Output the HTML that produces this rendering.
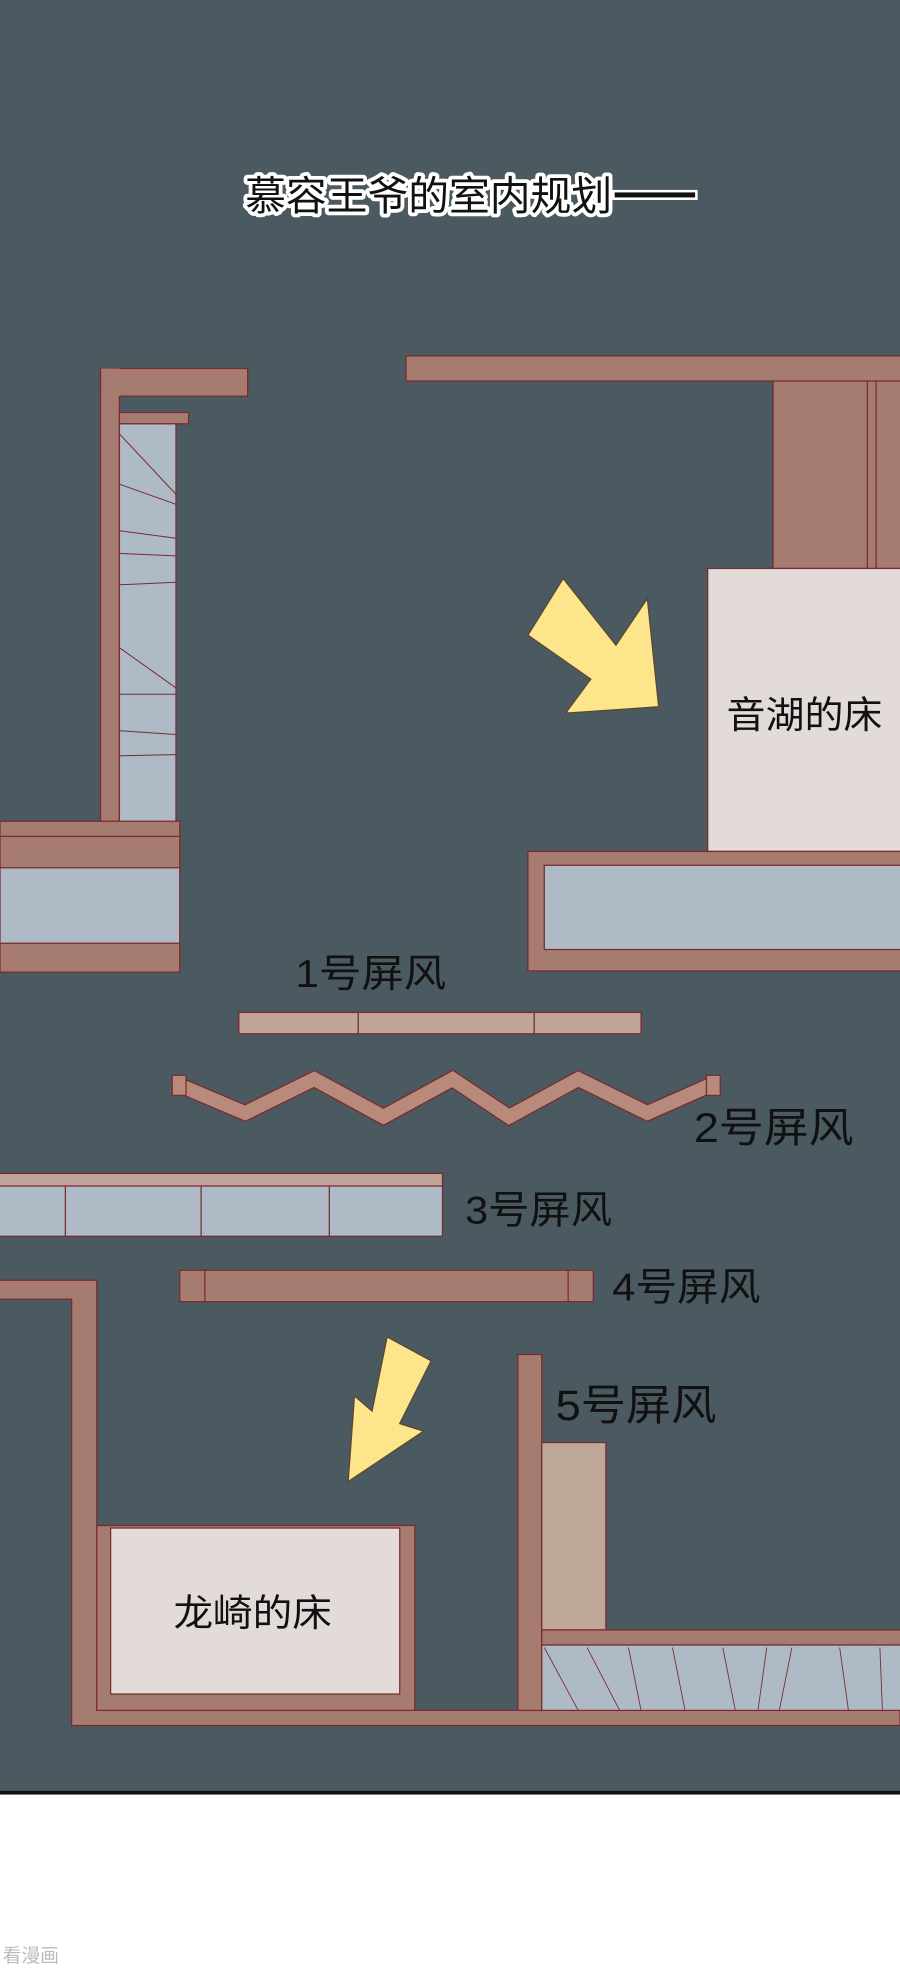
<!DOCTYPE html>
<html><head><meta charset="utf-8"><style>
html,body{margin:0;padding:0;background:#fff;width:900px;height:1972px;overflow:hidden}
svg{display:block}
text{font-family:"Liberation Sans","Noto Sans CJK SC",sans-serif}
</style></head><body>
<svg width="900" height="1972" viewBox="0 0 716 1568" preserveAspectRatio="none" xmlns="http://www.w3.org/2000/svg">
<rect x="0" y="0" width="716" height="1425" fill="#4b5960"/>
<rect x="0" y="1424" width="716" height="3" fill="#111"/>
<rect x="0" y="1427" width="716" height="141" fill="#fff"/>
<text x="2" y="1560" font-size="15" fill="#bbb">看漫画</text>

<!-- title -->
<g font-size="32">
<text x="195" y="167" textLength="292" lengthAdjust="spacingAndGlyphs" fill="none" stroke="#fff" stroke-width="6" stroke-linejoin="round">慕容王爷的室内规划</text>
<text x="195" y="167" textLength="292" lengthAdjust="spacingAndGlyphs" fill="#111">慕容王爷的室内规划</text>
</g>
<rect x="488" y="152" width="66" height="6" fill="#111" stroke="#fff" stroke-width="2"/>

<g stroke="#7a2b2e" stroke-width="1">
<rect x="80" y="293" width="117" height="22" fill="#a77c70"/>
<rect x="80" y="293" width="15" height="367" fill="#a77c70" stroke="none"/>
<path d="M80 293 V660 H95 V315" fill="none"/>
<rect x="95" y="328" width="55" height="9" fill="#a77c70"/>
<rect x="95" y="337" width="45" height="323" fill="#aebbc7"/>
<path d="M95 345 L140 393 M95 385 L140 401 M95 422 L140 428 M95 440 L140 442 M95 465 L140 463 M95 515 L140 547 M95 552 L140 552 M95 581 L140 584 M95 601 L140 600" fill="none" stroke-width="0.8"/>
<rect x="0" y="653" width="143" height="120" fill="#a77c70"/>
<path d="M0 665 H143" fill="none"/>
<rect x="0" y="690" width="143" height="60" fill="#aebbc7"/>

<rect x="323" y="283" width="400" height="20" fill="#a77c70"/>
<rect x="615" y="303" width="110" height="149" fill="#a77c70"/>
<path d="M690 303 V452 M697 303 V452" fill="none"/>
<rect x="563" y="452" width="160" height="225" fill="#e2dbd9"/>
<rect x="420" y="677" width="303" height="95" fill="#a77c70"/>
<rect x="433" y="688" width="290" height="67" fill="#aebbc7"/>

<polygon points="448,460 490,513 515,476 524,562 450,567 470,540 420,505" fill="#fde58b" stroke="#5a4630"/>

<rect x="190" y="805" width="320" height="17" fill="#c0a49a"/>
<path d="M285 805 V822 M425 805 V822" fill="none"/>

<polyline points="143,863 195,885 250,858 305,888 360,858 405,888 460,858 515,885 567,862" fill="none" stroke="#7a2b2e" stroke-width="13"/>
<polyline points="143,863 195,885 250,858 305,888 360,858 405,888 460,858 515,885 567,862" fill="none" stroke="#b88a7c" stroke-width="11"/>
<rect x="137" y="855" width="11" height="16" fill="#b88a7c"/>
<rect x="562" y="855" width="11" height="16" fill="#b88a7c"/>

<rect x="-2" y="933" width="354" height="50" fill="#aebbc7"/>
<rect x="-2" y="933" width="354" height="10" fill="#c0a49a"/>
<path d="M52 943 V983 M160 943 V983 M262 943 V983" fill="none"/>

<rect x="143" y="1010" width="329" height="25" fill="#a77c70"/>
<path d="M163 1010 V1035 M452 1010 V1035" fill="none"/>

<path d="M-2 1018 H77 V1360 H716 V1372 H57 V1033 H-2 Z" fill="#a77c70"/>
<rect x="77" y="1213" width="253" height="147" fill="#a77c70"/>
<rect x="88" y="1215" width="230" height="132" fill="#e2dbd9"/>

<polygon points="308,1063 343,1082 318,1132 337,1138 277,1178 282,1110 296,1122" fill="#fde58b" stroke="#5a4630"/>

<rect x="412" y="1077" width="19" height="283" fill="#a77c70"/>
<rect x="431" y="1147" width="51" height="149" fill="#bfa79a"/>
<rect x="431" y="1296" width="292" height="12" fill="#a77c70"/>
<rect x="431" y="1308" width="292" height="52" fill="#aebbc7"/>
<path d="M433 1310 L460 1360 M467 1310 L493 1360 M500 1310 L510 1360 M535 1310 L545 1360 M575 1310 L585 1360 M610 1310 L603 1360 M630 1310 L620 1360 M668 1310 L675 1360 M700 1310 L702 1360" fill="none" stroke-width="0.7"/>
</g>

<g fill="#111">
<text x="578" y="579" font-size="30" textLength="124" lengthAdjust="spacingAndGlyphs">音湖的床</text>
<text x="138" y="1293" font-size="30" textLength="126" lengthAdjust="spacingAndGlyphs">龙崎的床</text>
<text x="235" y="785" font-size="31" textLength="120" lengthAdjust="spacingAndGlyphs">1号屏风</text>
<text x="552" y="908" font-size="33" textLength="127" lengthAdjust="spacingAndGlyphs">2号屏风</text>
<text x="370" y="973" font-size="31" textLength="117" lengthAdjust="spacingAndGlyphs">3号屏风</text>
<text x="487" y="1034" font-size="31" textLength="118" lengthAdjust="spacingAndGlyphs">4号屏风</text>
<text x="442" y="1129" font-size="34" textLength="128" lengthAdjust="spacingAndGlyphs">5号屏风</text>
</g>
</svg>
</body></html>
